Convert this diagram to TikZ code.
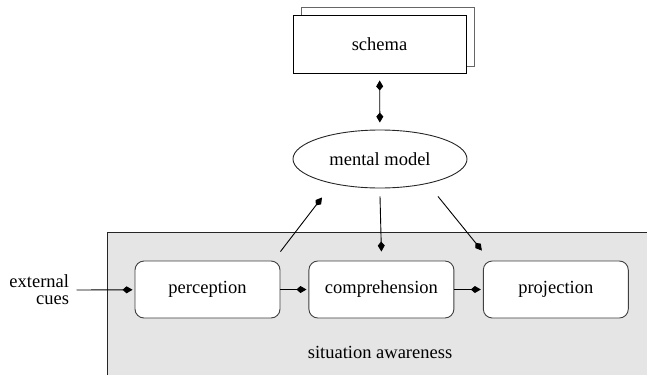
\documentclass[tikz,border=0pt]{standalone}
\usepackage{fontspec}
\setmainfont{Liberation Serif}
\usetikzlibrary{arrows.meta,shapes.geometric,positioning}

\begin{document}
\begin{tikzpicture}[x=1pt,y=-1pt,
    font=\rmfamily\fontsize{18.5}{20}\selectfont,
    line width=0.9pt,
    stage/.style={draw=black!75,fill=white,rounded corners=9pt,
        minimum width=145pt,minimum height=57pt},
    tip/.style={-{Kite[length=10pt,width=7pt,inset=4pt]}}]
\useasboundingbox (0,0) rectangle (647,375);

% situation awareness
\fill [black!10] (107,232) rectangle (647,375);
\draw [black!85] (107,375) -- (107,232) -- (647,232);
\node (sa) at (380,352) {situation awareness};

\node [stage] (perception) at (207.5,289.5) {perception};
\node [stage, right=28pt of perception] (comprehension) {comprehension};
\node [stage, right=28.5pt of comprehension] (projection) {projection};

\node [align=right, anchor=east, inner sep=0pt,
    font=\rmfamily\fontsize{18.5}{17}\selectfont] (cues) at (69.5,290) {external\\cues};

% schema, drawn twice
\draw [black!60, fill=white] (301,7) rectangle (474,66);
\node [draw, fill=white, minimum width=173pt, minimum height=58pt] (schema) at (379.5,44) {schema};

\node [draw=black!85, ellipse, inner sep=0pt,
    minimum width=174pt, minimum height=58pt] (model) at (380,159) {mental model};

\draw [tip, shorten >=2pt] ([xshift=7pt]cues.east) -- (perception);
\draw [tip, shorten >=2pt] (perception) -- (comprehension);
\draw [tip, shorten >=2pt] (comprehension) -- (projection);

\draw [{Kite[length=10pt,width=7pt,inset=4pt]}-{Kite[length=10pt,width=7pt,inset=4pt]},
    shorten <=7pt, shorten >=7pt] (schema) -- (model);

\draw [tip] ([yshift=9pt]perception.north east) -- ([xshift=-58pt,yshift=-9pt]model.south);
\draw [tip] ([yshift=-8pt]model.south) -- ([yshift=9pt]comprehension.north);
\draw [tip] ([xshift=58pt,yshift=-8pt]model.south) -- ([xshift=-1pt,yshift=10pt]projection.north west);
\end{tikzpicture}
\end{document}
